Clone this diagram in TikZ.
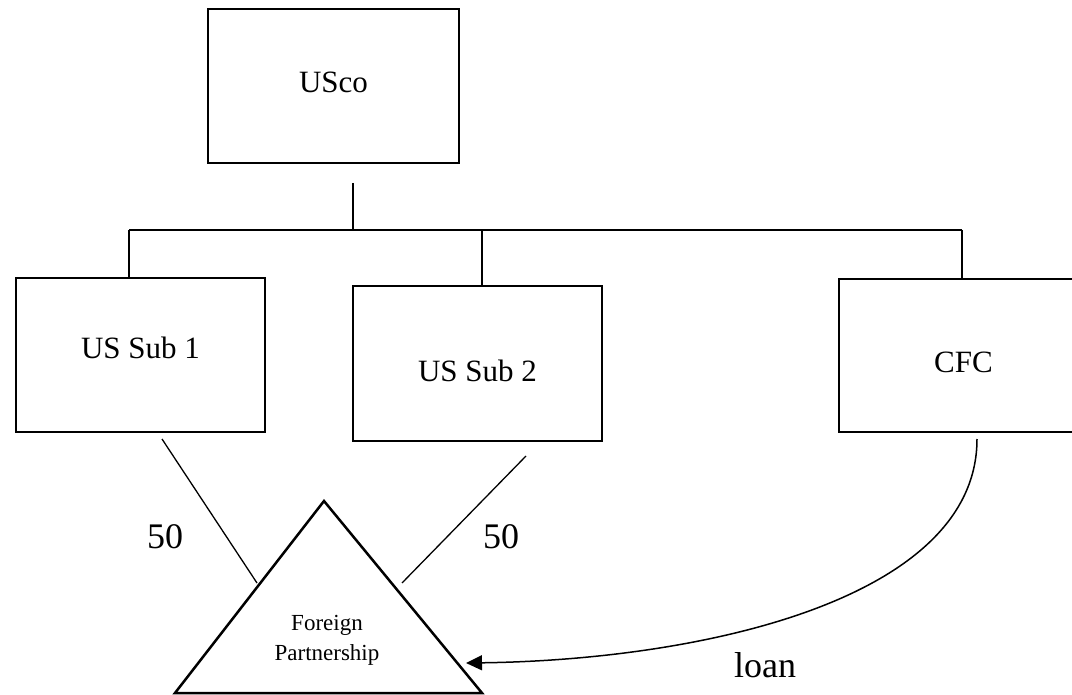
\documentclass[tikz,border=0pt]{standalone}
\usepackage{fontspec}
\setmainfont{Liberation Serif}
\usetikzlibrary{arrows.meta,positioning,calc}

\begin{document}
\begin{tikzpicture}[
    x=1pt, y=-1pt,
    entity/.style={draw, line width=2.2pt, minimum width=249pt, minimum height=154pt,
        font=\fontsize{31}{36}\selectfont},
    link/.style={line width=2pt},
    stake/.style={line width=1.3pt},
    pct/.style={font=\fontsize{36}{40}\selectfont}
]
    \useasboundingbox (0,0) rectangle (1072,695);

    % companies
    \node[entity, minimum width=251pt, text depth=8pt] (usco) at (333.5,86) {USco};
    \node[entity, text depth=14pt] (sub1) at (140.5,355) {US Sub 1};
    \node[entity, minimum height=155pt, text height=37pt] (sub2) at (477.5,363.5) {US Sub 2};
    \node[entity, minimum height=153pt, text height=35pt] (cfc) at (963.5,355.5) {CFC};

    % ownership bus
    \coordinate (stub) at (353,183);
    \coordinate (busA) at (129,230);
    \coordinate (busB) at (482,230);
    \coordinate (busC) at (962,230);
    \draw[link] (stub) -- (stub |- busA);
    \draw[link] (busA) -- (busC);
    \draw[link] (busA) -- (busA |- sub1.north);
    \draw[link] (busB) -- (busB |- sub2.north);
    \draw[link] (busC) -- (busC |- cfc.north);

    % partnership
    \coordinate (apex) at (324,501);
    \coordinate (baseL) at (175,693);
    \coordinate (baseR) at (482,693);
    \draw[line width=2.5pt] (apex) -- (baseR) -- (baseL) -- cycle;
    \node[font=\fontsize{23}{30}\selectfont, align=center] (fp) at (327,640) {Foreign\\Partnership};

    % 50/50 interests
    \coordinate (s1a) at (162,439);
    \coordinate (s1b) at (257,583);
    \coordinate (s2a) at (526,456);
    \coordinate (s2b) at (402,583);
    \draw[stake] (s1a) -- (s1b);
    \draw[stake] (s2a) -- (s2b);
    \node[pct] (pctA) at (165,537) {50};
    \node[pct] (pctB) at (501,537) {50};

    % loan from CFC
    \coordinate (loanA) at (977,439);
    \coordinate (loanB) at (466,663);
    \draw[line width=1.5pt, -{Triangle[length=16pt, width=15pt]}]
        (loanA) .. controls (977,600) and (700,660) .. (loanB);
    \node[pct] (loan) at (765,665) {loan};
\end{tikzpicture}
\end{document}
